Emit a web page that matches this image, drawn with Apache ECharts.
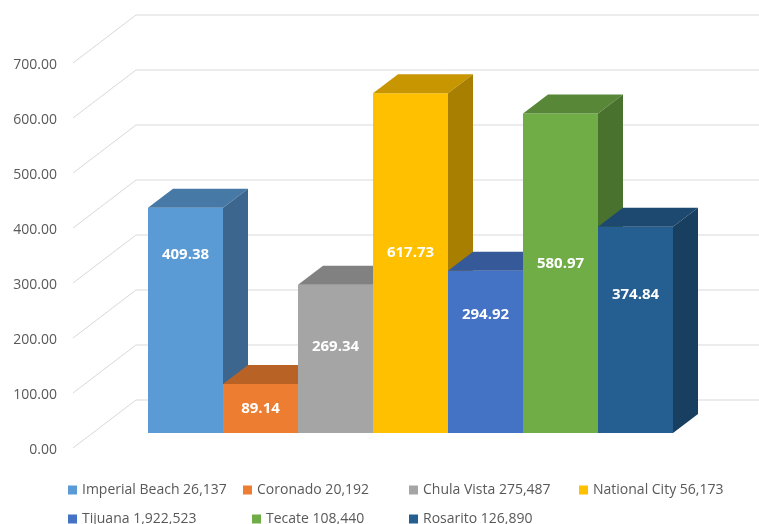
<!DOCTYPE html>
<html>
<head>
<meta charset="utf-8">
<script src="https://cdn.jsdelivr.net/npm/echarts@6/dist/echarts.min.js"></script>
<style>
html,body{margin:0;padding:0;background:#fff;}
#chart{width:759px;height:524px;}
</style>
</head>
<body>
<div id="chart"></div>
<script>
// ---- data ----
const categories = ['Imperial Beach 26,137', 'Coronado 20,192', 'Chula Vista 275,487', 'National City 56,173', 'Tijuana 1,922,523', 'Tecate 108,440', 'Rosarito 126,890'];
const values = [409.38, 89.14, 269.34, 617.73, 294.92, 580.97, 374.84];
const yTicks = [0, 100, 200, 300, 400, 500, 600, 700];

// ---- style ----
const colors = ['#5B9BD5', '#ED7D31', '#A5A5A5', '#FFC000', '#4472C4', '#70AD47', '#255E91'];
const labelFrac = [0.79, 0.5, 0.58, 0.53, 0.73, 0.53, 0.67];
const legendPos = [[63, 478], [238, 478], [404, 478], [574, 478], [63, 507], [247, 507], [404, 507]];
const DX = 25, DY = 19;           // bar depth (oblique projection)
const FLOOR_FRONT_DX = -75, FLOOR_FRONT_DY = 15;
const FLOOR_BACK_DX = -12, FLOOR_BACK_DY = -33;
const FONT = '"Open Sans", "Liberation Sans", sans-serif';

function shade(hex, f) {
  const n = parseInt(hex.slice(1), 16);
  const r = Math.round(((n >> 16) & 255) * f), g = Math.round(((n >> 8) & 255) * f), b = Math.round((n & 255) * f);
  return 'rgb(' + r + ',' + g + ',' + b + ')';
}

const chart = echarts.init(document.getElementById('chart'), null, {renderer: 'canvas'});

const series = [];
// floor / back wall gridlines
series.push({
  type: 'custom',
  name: '__grid',
  z: 1,
  clip: false,
  silent: true,
  data: yTicks.map(v => [0, v]),
  renderItem: function (params, api) {
    const cs = params.coordSys;
    const y = api.coord([0, api.value(1)])[1];
    const fx = cs.x + FLOOR_FRONT_DX, fy = y + FLOOR_FRONT_DY;
    const bx = cs.x + FLOOR_BACK_DX, by = y + FLOOR_BACK_DY;
    return {
      type: 'polyline',
      shape: {points: [[fx, fy], [bx, by], [api.getWidth(), by]]},
      style: {stroke: '#d9d9d9', lineWidth: 1, fill: null}
    };
  }
});

categories.forEach((name, i) => {
  const col = colors[i];
  series.push({
    type: 'custom',
    name: name,
    z: 2 + i,
    clip: false,
    itemStyle: {color: col},
    data: [[i, values[i]]],
    renderItem: function (params, api) {
      const idx = api.value(0), v = api.value(1);
      const p0 = api.coord([idx, 0]);
      const p1 = api.coord([idx, v]);
      const w = api.size([1, 0])[0];
      const left = p0[0] - w / 2, right = left + w;
      const bottom = p0[1], top = p1[1];
      const ly = bottom - (bottom - top) * labelFrac[idx];
      return {
        type: 'group',
        children: [
          {type: 'rect', shape: {x: left, y: top, width: w, height: bottom - top}, style: {fill: col}},
          {type: 'polygon', shape: {points: [[left, top], [right, top], [right + DX, top - DY], [left + DX, top - DY]]}, style: {fill: shade(col, 0.78)}},
          {type: 'polygon', shape: {points: [[right, top], [right + DX, top - DY], [right + DX, bottom - DY], [right, bottom]]}, style: {fill: shade(col, 0.66)}},
          {type: 'text', style: {x: (left + right) / 2, y: ly, text: v.toFixed(2), fill: '#ffffff', font: 'bold 15px ' + FONT, textAlign: 'center', textVerticalAlign: 'middle'}}
        ]
      };
    }
  });
});

const legends = categories.map((name, i) => ({
  data: [name],
  left: legendPos[i][0],
  top: legendPos[i][1],
  icon: 'rect',
  itemWidth: 9,
  itemHeight: 9,
  itemGap: 0,
  selectedMode: false,
  textStyle: {color: '#595959', fontSize: 14, fontFamily: FONT}
}));

chart.setOption({
  animation: false,
  backgroundColor: '#ffffff',
  grid: {left: 148, right: 86, top: 48, bottom: 91, containLabel: false},
  xAxis: {
    type: 'category',
    data: categories,
    show: false
  },
  yAxis: {
    type: 'value',
    min: 0,
    max: 700,
    interval: 100,
    axisLine: {show: false},
    axisTick: {show: false},
    splitLine: {show: false},
    axisLabel: {
      margin: 91,
      color: '#595959',
      fontSize: 14,
      fontFamily: FONT,
      verticalAlign: 'top',
      lineHeight: 34,
      formatter: v => v.toFixed(2)
    }
  },
  legend: legends,
  series: series
});
</script>
</body>
</html>
